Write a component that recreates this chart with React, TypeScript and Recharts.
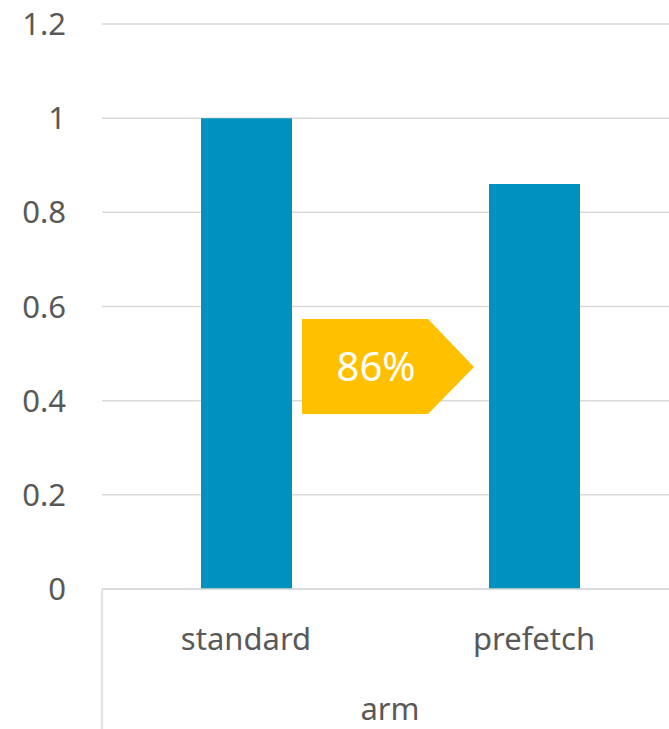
import { BarChart, Bar, XAxis, YAxis, CartesianGrid } from 'recharts'

const arms = ['standard', 'prefetch']
const relativeTime = [1.0, 0.86]
const yTicks = [0, 0.2, 0.4, 0.6, 0.8, 1, 1.2]

const data = arms.map((arm, i) => ({ arm, value: relativeTime[i] }))

const FONT = '"Noto Sans", "Open Sans", sans-serif'
const TEXT = '#595959'
const GRID = '#D9D9D9'

const W = 680
const H = 729
const Y_AXIS_W = 102
const MARGIN = { top: 24, right: 2, bottom: 0, left: 0 }
const plotWidth = W - Y_AXIS_W - MARGIN.left - MARGIN.right
const band = plotWidth / arms.length

const ratioLabel = `${Math.round((relativeTime[1] / relativeTime[0]) * 100)}%`

function CategoryTick(props: any) {
  const { x, y, payload, index } = props
  return (
    <g>
      {index === 0 && (
        <line x1={x - band / 2} y1={y} x2={x - band / 2} y2={H} stroke={GRID} strokeWidth={1.5} />
      )}
      <text x={x} y={y + 61} textAnchor="middle" fill={TEXT} fontSize={31} fontFamily={FONT}>
        {payload.value}
      </text>
    </g>
  )
}

export default function App() {
  return (
    <div style={{ position: 'absolute', left: 0, top: 0, width: 669, height: H, overflow: 'hidden', background: '#fff' }}>
      <BarChart width={W} height={H} data={data} margin={MARGIN} barSize={91}>
        <CartesianGrid vertical={false} stroke={GRID} strokeWidth={1.5} />
        <XAxis
          dataKey="arm"
          height={140}
          tickLine={false}
          tickSize={0}
          tickMargin={0}
          axisLine={{ stroke: GRID, strokeWidth: 1.5 }}
          tick={<CategoryTick />}
          label={{ value: 'arm', position: 'insideBottom', offset: 9, fill: TEXT, fontSize: 31, fontFamily: FONT }}
        />
        <YAxis
          width={Y_AXIS_W}
          domain={[0, 1.2]}
          ticks={yTicks}
          axisLine={false}
          tickLine={false}
          tickSize={0}
          tickMargin={36}
          tick={{ fill: TEXT, fontSize: 31, fontFamily: FONT }}
        />
        <Bar dataKey="value" fill="#0092BF" isAnimationActive={false} />
      </BarChart>
      <svg width={669} height={H} style={{ position: 'absolute', left: 0, top: 0, pointerEvents: 'none' }}>
        <polygon points="302,319 428,319 474,367 428,414 302,414" fill="#FFC000" />
        <text x={376} y={381} textAnchor="middle" fill="#fff" fontSize={40} fontFamily={FONT}>
          {ratioLabel}
        </text>
      </svg>
    </div>
  )
}
